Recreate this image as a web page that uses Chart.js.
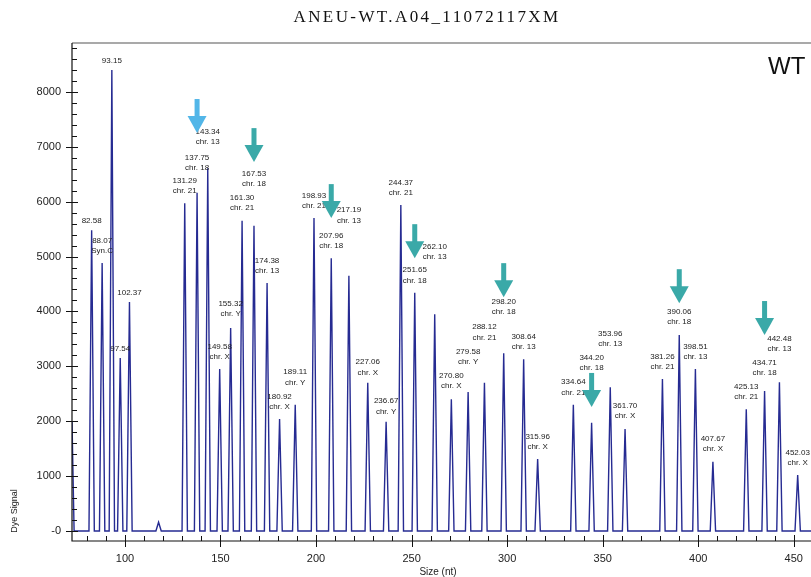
<!DOCTYPE html>
<html>
<head>
<meta charset="utf-8">
<script src="https://cdn.jsdelivr.net/npm/chart.js@4.4.1/dist/chart.umd.min.js"></script>
<style>
  html, body { margin: 0; padding: 0; background: #fff; }
</style>
</head>
<body>
<canvas id="trace" width="811" height="577"></canvas>
<script>
// peaks: size (nt), dye signal, tag
const peakSizes = [82.58, 88.07, 93.15, 97.54, 102.37, 131.29, 137.75, 143.34, 149.58, 155.32,
  161.30, 167.53, 174.38, 180.92, 189.11, 198.93, 207.96, 217.19, 227.06, 236.67,
  244.37, 251.65, 262.10, 270.80, 279.58, 288.12, 298.20, 308.64, 315.96, 334.64,
  344.20, 353.96, 361.70, 381.26, 390.06, 398.51, 407.67, 425.13, 434.71, 442.48, 452.03];
const peakSignals = [5480, 4880, 8400, 3150, 4170, 5970, 6160, 6610, 2950, 3700,
  5650, 5560, 4520, 2040, 2300, 5700, 4970, 4650, 2700, 1990,
  5940, 4340, 3950, 2400, 2530, 2700, 3240, 3130, 1310, 2300,
  1970, 2620, 1860, 2770, 3570, 2950, 1260, 2220, 2550, 2710, 1020];
const peakTags = ['', 'Syn.C', '', '', '', 'chr. 21', 'chr. 18', 'chr. 13', 'chr. X', 'chr. Y',
  'chr. 21', 'chr. 18', 'chr. 13', 'chr. X', 'chr. Y', 'chr. 21', 'chr. 18', 'chr. 13', 'chr. X', 'chr. Y',
  'chr. 21', 'chr. 18', 'chr. 13', 'chr. X', 'chr. Y', 'chr. 21', 'chr. 18', 'chr. 13', 'chr. X', 'chr. 21',
  'chr. 18', 'chr. 13', 'chr. X', 'chr. 21', 'chr. 18', 'chr. 13', 'chr. X', 'chr. 21', 'chr. 18', 'chr. 13', 'chr. X'];

// small extra features of the trace
const bumpSizes = [117.6];
const bumpSignals = [160];
const leadSizes = [72.3, 73.4];
const leadSignals = [2000, 0];

const xTicks = [100, 150, 200, 250, 300, 350, 400, 450];
const yTicks = [0, 1000, 2000, 3000, 4000, 5000, 6000, 7000, 8000];

// arrows point at the chr. 18 peaks
const arrowSizes = [137.75, 167.53, 207.96, 251.65, 298.20, 344.20, 390.06, 434.71];
const arrowTipSignals = [7250, 6720, 5700, 4970, 4260, 2260, 4150, 3570];

// extra lift (px) for labels that sit higher than the usual gap
const labelLift = [0, 0, 0, 0, 0, 0, 13, 14, 0, 2,
  1, 30, 0, 0, 10, 0, 0, 43, -2, -2,
  0, 0, 45, 1, 18, 33, 29, 0, 0, 0,
  43, 31, 1, 0, 1, 0, 1, 0, 6, 21, 0];

const HALF = 1.4;
const spikes = peakSizes.map((s, i) => [s, peakSignals[i]])
  .concat(bumpSizes.map((s, i) => [s, bumpSignals[i]]))
  .sort((a, b) => a[0] - b[0]);
const trace = leadSizes.map((s, i) => ({ x: s, y: leadSignals[i] }));
spikes.forEach(([s, h]) => {
  trace.push({ x: s - HALF, y: 0 }, { x: s, y: h }, { x: s + HALF, y: 0 });
});
trace.push({ x: 459, y: 0 });

const decor = {
  id: 'decor',
  afterDatasetsDraw(chart) {
    const { ctx, chartArea: a, scales: { x, y } } = chart;
    ctx.save();

    // frame and axes
    ctx.strokeStyle = '#8c8c8c';
    ctx.lineWidth = 1.5;
    ctx.beginPath(); ctx.moveTo(a.left, a.top); ctx.lineTo(a.right, a.top); ctx.stroke();
    ctx.strokeStyle = '#111';
    ctx.lineWidth = 1.2;
    ctx.beginPath();
    ctx.moveTo(a.left, a.top); ctx.lineTo(a.left, a.bottom); ctx.lineTo(a.right, a.bottom);
    ctx.stroke();

    // y ticks: major every 1000, minor every 200
    ctx.lineWidth = 1;
    for (let v = 0; v <= 8800; v += 200) {
      const py = Math.round(y.getPixelForValue(v)) + 0.5;
      ctx.beginPath();
      if (v % 1000 === 0) { ctx.moveTo(a.left - 6, py); ctx.lineTo(a.left + 6, py); }
      else { ctx.moveTo(a.left, py); ctx.lineTo(a.left + 5, py); }
      ctx.stroke();
    }
    // x ticks: major every 50, minor every 10
    for (let v = 80; v <= 450; v += 10) {
      const px = Math.round(x.getPixelForValue(v)) + 0.5;
      ctx.beginPath();
      if (v % 50 === 0) { ctx.moveTo(px, a.bottom - 6); ctx.lineTo(px, a.bottom + 6); }
      else { ctx.moveTo(px, a.bottom); ctx.lineTo(px, a.bottom - 5); }
      ctx.stroke();
    }

    // peak labels
    ctx.fillStyle = '#222';
    ctx.font = '8px "Liberation Sans", Arial, sans-serif';
    ctx.textAlign = 'center';
    ctx.textBaseline = 'middle';
    peakSizes.forEach((s, i) => {
      const px = x.getPixelForValue(s);
      const top = y.getPixelForValue(peakSignals[i]);
      if (peakTags[i]) {
        const l2 = top - 12 - labelLift[i];
        ctx.fillText(peakTags[i], px, l2);
        ctx.fillText(s.toFixed(2), px, l2 - 10.5);
      } else {
        ctx.fillText(s.toFixed(2), px, top - 9 - labelLift[i]);
      }
    });

    // arrows
    arrowSizes.forEach((s, i) => {
      const tx = x.getPixelForValue(s);
      const ty = y.getPixelForValue(arrowTipSignals[i]);
      ctx.fillStyle = i === 0 ? '#52b6e8' : '#3aa9a8';
      ctx.fillRect(tx - 2.5, ty - 34, 5, 18);
      ctx.beginPath();
      ctx.moveTo(tx - 9.5, ty - 17);
      ctx.lineTo(tx + 9.5, ty - 17);
      ctx.lineTo(tx, ty);
      ctx.closePath();
      ctx.fill();
    });

    // texts
    ctx.fillStyle = '#111';
    ctx.font = '17px "Liberation Serif", "Times New Roman", serif';
    ctx.letterSpacing = '2.4px';
    ctx.fillText('ANEU-WT.A04_11072117XM', 427, 18);
    ctx.letterSpacing = '0px';
    ctx.font = '24px "Liberation Sans", Arial, sans-serif';
    ctx.textAlign = 'left';
    ctx.fillText('WT', 768, 67);
    ctx.textAlign = 'center';
    ctx.fillStyle = '#222';
    ctx.font = '10px "Liberation Sans", Arial, sans-serif';
    ctx.fillText('Size (nt)', 438, 572);
    ctx.translate(15, 511);
    ctx.rotate(-Math.PI / 2);
    ctx.font = '9px "Liberation Sans", Arial, sans-serif';
    ctx.fillText('Dye Signal', 0, 0);

    ctx.restore();
  }
};

new Chart(document.getElementById('trace'), {
  type: 'line',
  data: {
    datasets: [{
      data: trace,
      borderColor: '#262b92',
      borderWidth: 1.4,
      pointRadius: 0,
      tension: 0,
      fill: false
    }]
  },
  options: {
    responsive: false,
    animation: false,
    devicePixelRatio: 1,
    layout: { padding: { top: 43, left: 0, right: 0, bottom: 0 } },
    plugins: { legend: { display: false }, tooltip: { enabled: false } },
    scales: {
      x: {
        type: 'linear',
        min: 72.3,
        max: 459,
        afterBuildTicks: s => { s.ticks = xTicks.map(v => ({ value: v })); },
        afterFit: s => { s.height = 36; },
        grid: { display: false },
        border: { display: false },
        ticks: {
          padding: 3, color: '#222', maxRotation: 0, autoSkip: false,
          font: { family: '"Liberation Sans", Arial, sans-serif', size: 11 }
        }
      },
      y: {
        min: -182,
        max: 8890,
        afterBuildTicks: s => { s.ticks = yTicks.map(v => ({ value: v })); },
        afterFit: s => { s.width = 72; },
        grid: { display: false },
        border: { display: false },
        ticks: {
          padding: 3, color: '#222', autoSkip: false,
          callback: v => (v === 0 ? '-0' : v),
          font: { family: '"Liberation Sans", Arial, sans-serif', size: 11 }
        }
      }
    }
  },
  plugins: [decor]
});
</script>
</body>
</html>
